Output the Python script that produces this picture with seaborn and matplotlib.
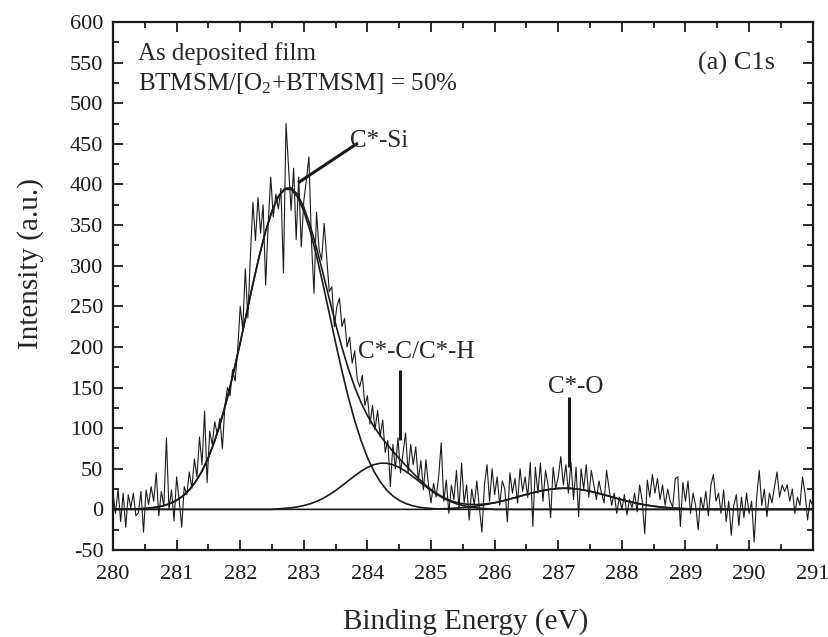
import numpy as np
import pandas as pd
import matplotlib
matplotlib.use("Agg")
import matplotlib.pyplot as plt
import seaborn as sns

# measured C1s spectrum, 0.04 eV steps from 280.00 to 291.00 eV
counts = [
    20, -5, 25, -15, 20, -22, 18, 2, 20, -8, -4, 22, -28, 24, 6, 28, 10, 45, -8, 22, 4, 88, 0, 24, -14,
    40, 12, -22, 28, 18, 46, 26, 62, 40, 89, 55, 121, 33, 96, 80, 108, 92, 112, 75, 128, 150, 140, 172, 158, 196,
    250, 222, 296, 236, 312, 378, 331, 384, 340, 375, 276, 352, 409, 360, 388, 370, 395, 291, 475, 422, 368, 420, 332, 409, 323,
    380, 405, 434, 330, 266, 366, 320, 307, 352, 310, 268, 274, 225, 250, 260, 225, 235, 200, 212, 180, 195, 160, 151, 165, 128,
    140, 105, 128, 98, 122, 90, 110, 70, 85, 28, 80, 50, 88, 45, 70, 94, 45, 80, 55, 77, 36, 60, 24, 61, 30,
    8, 32, 15, 40, 82, 10, 36, -5, 30, 12, 48, 0, 57, 8, 30, -13, 25, 5, 35, 2, -28, 30, 55, 10, 50,
    18, 40, 5, 35, 25, -15, 45, 20, 38, 8, 50, 22, 40, 15, 58, -21, 52, 20, 57, 10, 48, 30, -10, 52, 25,
    40, 65, 30, 55, 20, 58, 12, 52, -9, 50, 25, 55, 15, 48, 30, 12, 35, 20, 8, 48, 25, 5, 20, -5, 15,
    0, 18, -7, 12, 2, 20, -3, 30, 10, -30, 36, 15, 43, 20, 38, 12, 30, 5, 25, 10, 3, 38, 40, -21, 33,
    10, 35, -5, 20, 5, -25, 15, 0, 22, -8, 30, 43, 10, 20, -5, 24, -15, 10, -32, 5, 18, -20, 15, -10, 20,
    -5, 10, -40, 15, 48, 5, 25, -9, 20, 8, 28, 46, 15, 30, 22, 30, 10, 25, -5, 15, 5, 40, 20, -13, 12,
    5,
]
energy = np.round(280.0 + 0.04 * np.arange(len(counts)), 2)

# fitted components, 0.1 eV steps from 280.0 to 291.0
fit_energy = np.round(np.arange(280.0, 291.05, 0.1), 1)
c_si = [0.0, 0.1, 0.2, 0.4, 0.6, 1.1, 1.8, 2.9, 4.7, 7.3, 11.1, 16.5, 24.0, 34.1, 47.2, 63.9,
        84.6, 109.3, 138.0, 170.2, 205.0, 241.4, 277.6, 312.0, 342.5, 367.3, 384.8, 393.9,
        393.9, 384.8, 367.3, 342.5, 312.0, 277.6, 241.4, 205.0, 170.2, 138.0, 109.3, 84.6,
        63.9, 47.2, 34.1, 24.0, 16.5, 11.1, 7.3, 4.7, 2.9, 1.8, 1.1, 0.6, 0.3] + [0.0] * 58
c_ch = [0.0] * 26 + [0.7, 1.2, 2.0, 3.1, 4.7, 6.9, 9.8, 13.5, 18.0, 23.2, 29.1, 35.2, 41.3,
                     46.9, 51.6, 55.0, 56.8, 56.8, 55.0, 51.6, 46.9, 41.3, 35.2, 29.1, 23.2,
                     18.0, 13.5, 9.8, 6.9, 4.7, 3.1, 2.0, 1.2, 0.7] + [0.0] * 51
c_o = [0.0] * 51 + [0.5, 0.8, 1.1, 1.6, 2.2, 3.0, 3.9, 5.1, 6.5, 8.1, 9.9, 11.9, 14.0, 16.2,
                    18.4, 20.4, 22.3, 23.8, 25.0, 25.75, 26.0, 25.75, 25.0, 23.8, 22.3, 20.4,
                    18.4, 16.2, 14.0, 11.9, 9.9, 8.1, 6.5, 5.1, 3.9, 3.0, 2.2, 1.6, 1.1, 0.8,
                    0.5] + [0.0] * 19

fits = pd.DataFrame({"energy": fit_energy, "C*-Si": c_si, "C*-C/C*-H": c_ch, "C*-O": c_o})
fits["envelope"] = fits["C*-Si"] + fits["C*-C/C*-H"] + fits["C*-O"]
raw = pd.DataFrame({"energy": energy, "counts": counts})

# peak labels: text, text position, marker line (x0, y0, x1, y1)
peak_labels = ["C*-Si", "C*-C/C*-H", "C*-O"]
label_pos = [(283.73, 446), (283.85, 186), (286.84, 143)]
label_lines = [(283.85, 451, 282.91, 402), (284.51, 172, 284.51, 85), (287.17, 138, 287.17, 52)]

sns.set_theme(style="ticks")
plt.rcParams["font.family"] = ["Liberation Serif", "DejaVu Serif"]
plt.rcParams["mathtext.fontset"] = "custom"
plt.rcParams["mathtext.rm"] = "Liberation Serif"
plt.rcParams["mathtext.it"] = "Liberation Serif:italic"
plt.rcParams["axes.unicode_minus"] = False

fig = plt.figure(figsize=(8.29, 6.37), dpi=100)
ax = fig.add_axes([0.1363, 0.1366, 0.8440, 0.8289])

sns.lineplot(data=raw, x="energy", y="counts", ax=ax, color="k", lw=0.8,
             estimator=None, sort=False)
for col in ["C*-Si", "C*-C/C*-H", "C*-O", "envelope"]:
    sns.lineplot(data=fits, x="energy", y=col, ax=ax, color="k", lw=1.2,
                 estimator=None, sort=False)

for lab, (tx, ty), (x0, y0, x1, y1) in zip(peak_labels, label_pos, label_lines):
    ax.text(tx, ty, lab, fontsize=18, va="baseline", ha="left")
    ax.plot([x0, x1], [y0, y1], color="k", lw=2.2, solid_capstyle="butt")

ax.text(0.036, 0.928, "As deposited film", transform=ax.transAxes, fontsize=18)
ax.text(0.036, 0.872, r"BTMSM/[O$_2$+BTMSM] = 50%", transform=ax.transAxes, fontsize=18)
ax.text(0.946, 0.909, "(a) C1s", transform=ax.transAxes, fontsize=19, ha="right")

ax.set_xlim(280, 291)
ax.set_ylim(-50, 600)
ax.set_xticks(np.arange(280, 292, 1))
ax.set_xticks(np.arange(280, 291.01, 0.5), minor=True)
ax.set_yticks(np.arange(-50, 601, 50))
ax.set_yticks(np.arange(-50, 601, 25), minor=True)
ax.tick_params(which="both", direction="in", top=True, right=True, width=1.3,
               labelsize=16, colors="k")
ax.tick_params(which="major", length=7, pad=7)
ax.tick_params(axis="x", which="major", pad=11)
ax.tick_params(which="minor", length=4)
for s in ax.spines.values():
    s.set_linewidth(1.6)
    s.set_color("k")

ax.set_xlabel("Binding Energy (eV)", fontsize=21)
ax.set_ylabel("Intensity (a.u.)", fontsize=21)
ax.xaxis.set_label_coords(0.504, -0.11)
ax.yaxis.set_label_coords(-0.099, 0.542)

fig.savefig("out.png", dpi=100, facecolor="white")
